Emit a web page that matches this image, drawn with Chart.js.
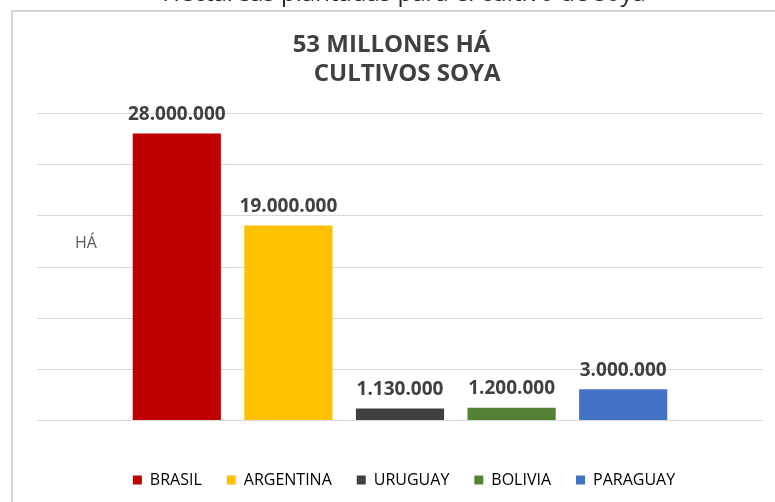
<!DOCTYPE html>
<html>
<head>
<meta charset="utf-8">
<script src="https://cdn.jsdelivr.net/npm/chart.js@4/dist/chart.umd.min.js"></script>
<style>
  html, body { margin: 0; padding: 0; background: #fff; }
</style>
</head>
<body>
<canvas id="soya" width="775" height="502"></canvas>
<script>
// datos
const paises = ['BRASIL', 'ARGENTINA', 'URUGUAY', 'BOLIVIA', 'PARAGUAY'];
const hectareas = [28000000, 19000000, 1130000, 1200000, 3000000];
const colores = ['#C00000', '#FFC000', '#404040', '#548235', '#4472C4'];
const titulo = ['53 MILLONES HÁ    ', ' CULTIVOS SOYA'];
const textoArriba = 'Hectáreas plantadas para el cultivo de soya';
const ejeY = 'HÁ';

function puntos(v) {
  return String(v).replace(/\B(?=(\d{3})+(?!\d))/g, '.');
}

// marco, lineas de fondo, texto cortado y etiquetas
const extras = {
  id: 'extras',
  beforeDraw(chart) {
    const ctx = chart.ctx;
    const y = chart.scales.y;
    ctx.save();
    ctx.fillStyle = '#262626';
    ctx.font = '24px "Open Sans"';
    ctx.textAlign = 'center';
    ctx.textBaseline = 'alphabetic';
    ctx.fillText(textoArriba, 404, 0.5);

    ctx.strokeStyle = '#d6d6d6';
    ctx.lineWidth = 2;
    ctx.beginPath();
    ctx.moveTo(12, 510);
    ctx.lineTo(12, 11);
    ctx.lineTo(780, 11);
    ctx.stroke();

    ctx.strokeStyle = '#d9d9d9';
    ctx.lineWidth = 1;
    y.ticks.forEach(t => {
      const py = Math.round(y.getPixelForValue(t.value)) + 0.5;
      ctx.beginPath();
      ctx.moveTo(37, py);
      ctx.lineTo(763, py);
      ctx.stroke();
    });

    ctx.fillStyle = '#595959';
    ctx.font = '16px "Open Sans"';
    ctx.textBaseline = 'middle';
    ctx.fillText(ejeY, 86, 243);
    ctx.restore();
  },
  afterDatasetsDraw(chart) {
    const ctx = chart.ctx;
    const meta = chart.getDatasetMeta(0);
    ctx.save();
    ctx.fillStyle = '#404040';
    ctx.font = 'bold 19px "Open Sans"';
    ctx.textAlign = 'center';
    ctx.textBaseline = 'middle';
    meta.data.forEach((bar, i) => {
      ctx.fillText(puntos(hectareas[i]), bar.x, bar.y - 19);
    });
    ctx.restore();
  }
};

// ejes invisibles que solo reservan espacio a los lados
const hueco = (w) => ({
  display: true,
  ticks: { display: false },
  grid: { display: false },
  border: { display: false },
  afterFit(s) { s.width = w; }
});

new Chart(document.getElementById('soya'), {
  type: 'bar',
  data: {
    labels: paises,
    datasets: [{
      data: hectareas,
      backgroundColor: colores,
      categoryPercentage: 1,
      barPercentage: 0.79
    }]
  },
  options: {
    responsive: false,
    animation: false,
    layout: { padding: { left: 33, right: 0, top: 0, bottom: 15 } },
    scales: {
      x: {
        ticks: { display: false },
        grid: { display: false },
        border: { display: false },
        afterFit(s) { s.height = 27; }
      },
      y: Object.assign(hueco(88), {
        position: 'left',
        min: 0,
        max: 30000000,
        ticks: { display: false, stepSize: 5000000 }
      }),
      derecha: Object.assign(hueco(96), { type: 'linear', position: 'right' })
    },
    plugins: {
      title: {
        display: true,
        text: titulo,
        color: '#404040',
        font: { family: 'Open Sans', size: 24, weight: 'bold', lineHeight: 1.21 },
        padding: { top: 31, bottom: 24 }
      },
      legend: {
        position: 'bottom',
        maxHeight: 40,
        labels: {
          boxWidth: 9,
          boxHeight: 9,
          padding: 25,
          color: '#595959',
          font: { family: 'Open Sans', size: 16 },
          generateLabels() {
            return paises.map((p, i) => ({
              text: p,
              fillStyle: colores[i],
              strokeStyle: colores[i],
              lineWidth: 0,
              hidden: false,
              index: i
            }));
          }
        }
      },
      tooltip: { enabled: false }
    }
  },
  plugins: [extras]
});
</script>
</body>
</html>
